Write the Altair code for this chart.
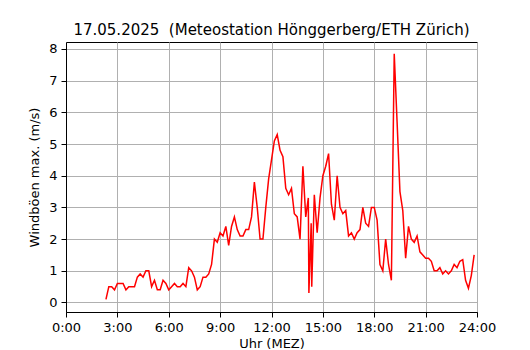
import altair as alt
import pandas as pd

times = ["02:20","02:30","02:40","02:50","03:00","03:10","03:20","03:30","03:40","03:50",
         "04:00","04:10","04:20","04:30","04:40","04:50","05:00","05:10","05:20","05:30",
         "05:40","05:50","06:00","06:10","06:20","06:30","06:40","06:50","07:00","07:10",
         "07:20","07:30","07:40","07:50","08:00","08:10","08:20","08:30","08:40","08:50",
         "09:00","09:10","09:20","09:30","09:40","09:50","10:00","10:10","10:20","10:30",
         "10:40","10:50","11:00","11:10","11:20","11:30","11:40","11:50","12:00","12:10",
         "12:20","12:30","12:40","12:50","13:00","13:10","13:20","13:30","13:40","13:50",
         "14:00","14:09","14:11","14:19","14:21","14:30","14:40","14:50","15:00","15:10",
         "15:20","15:30","15:40","15:50","16:00","16:10","16:20","16:30","16:40","16:50",
         "17:00","17:10","17:20","17:30","17:40","17:50","18:00","18:10","18:20","18:30",
         "18:40","18:50","19:00","19:10","19:20","19:30","19:40","19:50","20:00","20:10",
         "20:20","20:30","20:40","20:50","21:00","21:10","21:20","21:30","21:40","21:50",
         "22:00","22:10","22:20","22:30","22:40","22:50","23:00","23:10","23:20","23:30",
         "23:40","23:50"]
gusts = [0.1,0.5,0.5,0.4,0.6,0.6,0.6,0.4,0.5,0.5,
         0.5,0.8,0.9,0.8,1.0,1.0,0.5,0.7,0.4,0.4,
         0.7,0.6,0.4,0.5,0.6,0.5,0.5,0.6,0.5,1.1,
         1.0,0.8,0.4,0.5,0.8,0.8,0.9,1.2,2.0,1.9,
         2.2,2.1,2.4,1.8,2.4,2.7,2.3,2.1,2.1,2.3,
         2.3,2.7,3.8,3.0,2.0,2.0,3.0,3.9,4.5,5.1,
         5.3,4.8,4.6,3.6,3.4,3.6,2.8,2.7,2.0,4.3,
         2.7,3.3,0.3,2.5,0.5,3.4,2.2,3.3,4.0,4.3,
         4.7,3.1,2.6,4.0,3.0,2.8,2.9,2.1,2.2,2.0,
         2.2,2.3,3.0,2.5,2.4,3.0,3.0,2.6,1.2,1.0,
         2.0,1.2,0.7,7.85,5.7,3.5,2.9,1.4,2.4,2.0,
         1.9,2.1,1.6,1.5,1.4,1.4,1.3,1.0,1.0,1.1,
         0.9,1.0,0.9,1.0,1.2,1.1,1.3,1.35,0.7,0.45,
         0.85,1.5]

x_ticks = [0, 3, 6, 9, 12, 15, 18, 21, 24]
y_ticks = [0, 1, 2, 3, 4, 5, 6, 7, 8]

hours = [int(t[:2]) + int(t[3:]) / 60 for t in times]
df = pd.DataFrame({"h": hours, "v": gusts})

FONT = "DejaVu Sans"

chart = alt.Chart(df).mark_line(color="red", strokeWidth=1.5).encode(
    x=alt.X("h:Q",
            scale=alt.Scale(domain=[0, 24], nice=False, zero=False),
            axis=alt.Axis(values=x_ticks, labelExpr="datum.value + ':00'",
                          title="Uhr (MEZ)", grid=True, gridColor="#b0b0b0",
                          gridWidth=1, tickColor="black", tickSize=5,
                          domainColor="black", labelColor="black",
                          labelFontSize=13, titleFontSize=13, labelFont=FONT,
                          titleFont=FONT, titleFontWeight="normal",
                          labelPadding=4, titlePadding=3, labelFlush=False,
                          titleColor="black")),
    y=alt.Y("v:Q",
            scale=alt.Scale(domain=[-0.3, 8.22], nice=False, zero=False),
            axis=alt.Axis(values=y_ticks, title="Windböen max. (m/s)",
                          grid=True, gridColor="#b0b0b0", gridWidth=1,
                          tickColor="black", tickSize=5, domainColor="black",
                          labelColor="black", labelFontSize=13,
                          titleFontSize=13, labelFont=FONT, titleFont=FONT,
                          titleFontWeight="normal", labelPadding=4,
                          titlePadding=7, titleColor="black")),
).properties(
    width=411,
    height=270,
    title=alt.TitleParams("17.05.2025\u00a0 (Meteostation Hönggerberg/ETH Zürich)",
                          font=FONT, fontSize=15, fontWeight="normal",
                          color="black", offset=4),
    autosize=alt.AutoSizeParams(type="none"),
    padding={"left": 58, "top": 34, "right": 45, "bottom": 40},
).configure_view(stroke="black", strokeWidth=1)

chart.save("out.html", embed_options={"renderer": "svg", "actions": False})
